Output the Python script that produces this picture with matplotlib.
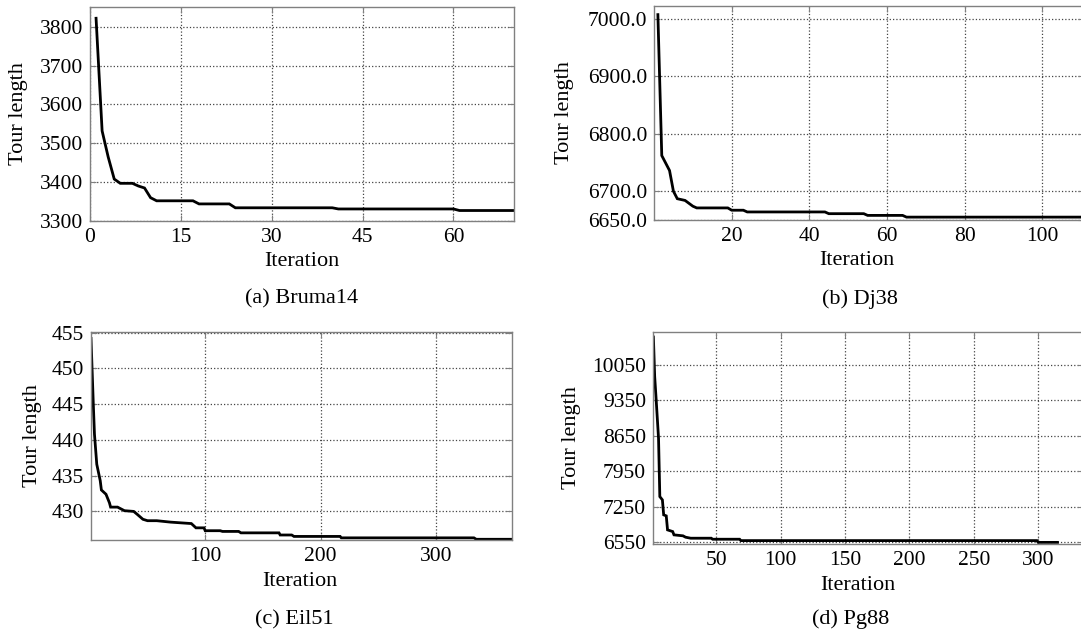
import numpy as np
import matplotlib
matplotlib.use("Agg")
import matplotlib.pyplot as plt

plt.rcParams['font.family'] = ['Liberation Serif', 'DejaVu Serif']

# (a) Bruma14
bruma_iter = [1, 2, 3, 4, 5, 7, 8, 9, 10, 11, 17, 18, 23, 24, 40, 41, 60, 61, 70]
bruma_len = [3822, 3532, 3465, 3408, 3397, 3397, 3390, 3385, 3360, 3352, 3352,
             3344, 3344, 3334, 3334, 3331, 3331, 3327, 3327]

# (b) Dj38
dj_iter = [1, 2, 4, 5, 6, 8, 10, 11, 19, 20, 23, 24, 44, 45, 54, 55, 64, 65, 111]
dj_len = [7007, 6762, 6736, 6700, 6687, 6684, 6674, 6671, 6671, 6667, 6667,
          6664, 6664, 6661, 6661, 6658, 6658, 6655, 6655]

# (c) Eil51
eil_iter = [1, 3, 4, 6, 9, 10, 14, 17, 18, 24, 30, 38, 41, 46, 50, 58, 70, 88,
            92, 99, 100, 113, 115, 129, 131, 164, 165, 175, 177, 217, 218, 333,
            335, 366]
eil_len = [454.2, 445.0, 440.8, 436.6, 434.3, 433.0, 432.4, 431.2, 430.6, 430.6,
           430.1, 430.0, 429.6, 428.9, 428.7, 428.7, 428.5, 428.3, 427.7, 427.7,
           427.3, 427.3, 427.2, 427.2, 427.0, 427.0, 426.7, 426.7, 426.5, 426.5,
           426.3, 426.3, 426.1, 426.1]

# (d) Pg88
pg_iter = [1, 2, 3, 5, 6, 8, 9, 11, 12, 16, 17, 24, 26, 30, 46, 47, 68, 69,
           299, 300, 315]
pg_len = [10596, 9819, 9425, 8600, 7452, 7387, 7092, 7072, 6796, 6763, 6698,
          6679, 6652, 6632, 6632, 6612, 6612, 6585, 6585, 6550, 6550]

W, H = 1081, 634
fig = plt.figure(figsize=(W / 100, H / 100), dpi=100)


def make_ax(l, t, r, b):
    return fig.add_axes([l / W, 1 - b / H, (r - l) / W, (b - t) / H])


def style(ax, x, y, xlim, ylim, xt, yt, yfmt, ylab_x, xlab_x, xlab_y):
    ax.plot(x, y, color='black', lw=2.0, solid_joinstyle='miter')
    ax.set_xlim(*xlim)
    ax.set_ylim(*ylim)
    ax.set_xticks(xt)
    ax.set_yticks(yt)
    ax.set_yticklabels([yfmt.format(v) for v in yt])
    ax.grid(True, linestyle=':', color='#444444', lw=0.9)
    for s in ax.spines.values():
        s.set_color('#808080')
        s.set_linewidth(1.0)
    ax.tick_params(direction='in', length=4, color='#808080', labelsize=15.5,
                   pad=5, top=True, right=True)
    ax.set_ylabel('Tour length', fontsize=16)
    ax.set_xlabel('Iteration', fontsize=16)
    ax.yaxis.set_label_coords(ylab_x, 0.5)
    ax.xaxis.set_label_coords(xlab_x, xlab_y)
    ax.xaxis.label.set_va('top')


ax1 = make_ax(90, 7, 514, 221)
style(ax1, bruma_iter, bruma_len, (0, 70), (3300, 3851),
      [0, 15, 30, 45, 60], [3300, 3400, 3500, 3600, 3700, 3800], '{:.0f}',
      -0.146, 0.5, -0.145)

ax2 = make_ax(654, 6, 1084, 220)
style(ax2, dj_iter, dj_len, (0, 110.7), (6650, 7022),
      [20, 40, 60, 80, 100], [6650, 6700, 6800, 6900, 7000], '{:.1f}',
      -0.185, 0.472, -0.145)

ax3 = make_ax(91, 332, 512, 540)
style(ax3, eil_iter, eil_len, (1, 366), (426.0, 455.1),
      [100, 200, 300], [430, 435, 440, 445, 450, 455], '{:.0f}',
      -0.1155, 0.495, -0.154)

ax4 = make_ax(653, 332, 1084, 544)
style(ax4, pg_iter, pg_len, (0.7, 335.6), (6518, 10695),
      [50, 100, 150, 200, 250, 300], [6550, 7250, 7950, 8650, 9350, 10050],
      '{:.0f}', -0.168, 0.475, -0.15)

fig.text(302 / W, 1 - 299 / H, '(a) Bruma14', ha='center', va='center', fontsize=16)
fig.text(860 / W, 1 - 299 / H, '(b) Dj38', ha='center', va='center', fontsize=16)
fig.text(294 / W, 1 - 620 / H, '(c) Eil51', ha='center', va='center', fontsize=16)
fig.text(851 / W, 1 - 619 / H, '(d) Pg88', ha='center', va='center', fontsize=16)

fig.savefig('out.png', dpi=100)
